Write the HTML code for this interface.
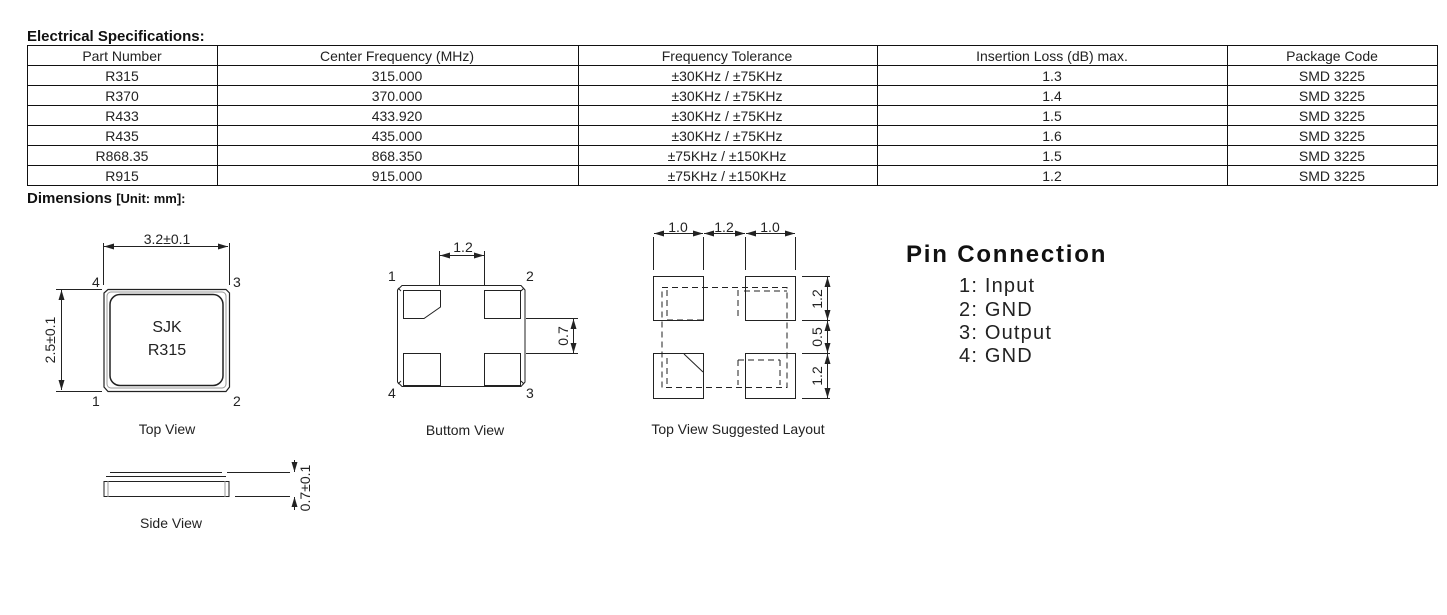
<!DOCTYPE html><html><head><meta charset="utf-8"><style>
body{margin:0;width:1447px;height:615px;background:#fff;overflow:hidden;font-family:"Liberation Sans",sans-serif}
svg{position:absolute;left:0;top:0}
</style></head><body>
<svg width="1447" height="615" xmlns="http://www.w3.org/2000/svg">
<defs>
<marker id="a" viewBox="0 0 10 6" refX="10" refY="3" markerWidth="10" markerHeight="6" orient="auto-start-reverse" markerUnits="userSpaceOnUse"><path d="M0,0L10,3L0,6z" fill="#222"/></marker>
</defs>
<g font-family="Liberation Sans,sans-serif" fill="#111">
<text x="27" y="41" font-size="15" font-weight="bold">Electrical Specifications:</text>
<text x="27" y="203" font-size="15" font-weight="bold">Dimensions <tspan font-size="13">[Unit: mm]:</tspan></text>
</g>
<g stroke="#111" stroke-width="1" fill="none">
<rect x="27.5" y="45.5" width="1410" height="140"/>
<path d="M27 65.5H1437M27 85.5H1437M27 105.5H1437M27 125.5H1437M27 145.5H1437M27 165.5H1437M217.5 45V185M578.5 45V185M877.5 45V185M1227.5 45V185"/>
</g>
<g font-family="Liberation Sans,sans-serif" font-size="14" fill="#222" text-anchor="middle">
<text x="122" y="61">Part Number</text><text x="397" y="61">Center Frequency (MHz)</text><text x="727" y="61">Frequency Tolerance</text><text x="1052" y="61">Insertion Loss (dB) max.</text><text x="1332" y="61">Package Code</text>
<text x="122" y="81">R315</text><text x="397" y="81">315.000</text><text x="727" y="81">±30KHz / ±75KHz</text><text x="1052" y="81">1.3</text><text x="1332" y="81">SMD 3225</text>
<text x="122" y="101">R370</text><text x="397" y="101">370.000</text><text x="727" y="101">±30KHz / ±75KHz</text><text x="1052" y="101">1.4</text><text x="1332" y="101">SMD 3225</text>
<text x="122" y="121">R433</text><text x="397" y="121">433.920</text><text x="727" y="121">±30KHz / ±75KHz</text><text x="1052" y="121">1.5</text><text x="1332" y="121">SMD 3225</text>
<text x="122" y="141">R435</text><text x="397" y="141">435.000</text><text x="727" y="141">±30KHz / ±75KHz</text><text x="1052" y="141">1.6</text><text x="1332" y="141">SMD 3225</text>
<text x="122" y="161">R868.35</text><text x="397" y="161">868.350</text><text x="727" y="161">±75KHz / ±150KHz</text><text x="1052" y="161">1.5</text><text x="1332" y="161">SMD 3225</text>
<text x="122" y="181">R915</text><text x="397" y="181">915.000</text><text x="727" y="181">±75KHz / ±150KHz</text><text x="1052" y="181">1.2</text><text x="1332" y="181">SMD 3225</text>
</g>
<!-- Top view -->
<g stroke="#222" fill="none" stroke-width="1">
<path d="M103.5 243V285M229.5 243V285M56 289.5H102M56 391.5H102"/>
<line x1="104" y1="246.5" x2="228" y2="246.5" marker-start="url(#a)" marker-end="url(#a)"/>
<line x1="61.5" y1="290" x2="61.5" y2="390" marker-start="url(#a)" marker-end="url(#a)"/>
<path d="M108 289.5H226L229.5 293V387L226 391.5H108L104 387V293Z" stroke-width="1.2"/>
<rect x="107" y="292" width="119" height="96" rx="4" stroke="#999"/>
<rect x="110" y="294.5" width="113" height="91" rx="10" stroke-width="1.5"/>
</g>
<g font-family="Liberation Sans,sans-serif" fill="#222" font-size="14">
<text x="167" y="244" text-anchor="middle">3.2±0.1</text>
<text x="55" y="340" text-anchor="middle" transform="rotate(-90 55 340)">2.5±0.1</text>
<text x="92" y="287">4</text><text x="233" y="287">3</text><text x="92" y="406">1</text><text x="233" y="406">2</text>
<text x="167" y="332" text-anchor="middle" font-size="16">SJK</text>
<text x="167" y="355" text-anchor="middle" font-size="16">R315</text>
<text x="167" y="434" text-anchor="middle">Top View</text>
</g>
<!-- Side view -->
<g stroke="#222" fill="none" stroke-width="1">
<path d="M110 472.5H222M106 476.5H226M104 481.5H229V496.5H104Z"/>
<path d="M108 481V497M225 481V497" stroke="#999"/>
<path d="M227 472.5H290M235 496.5H290"/>
<line x1="294.5" y1="460" x2="294.5" y2="472" marker-end="url(#a)"/>
<line x1="294.5" y1="510" x2="294.5" y2="497" marker-end="url(#a)"/>
</g>
<g font-family="Liberation Sans,sans-serif" fill="#222" font-size="14">
<text x="310" y="488" text-anchor="middle" transform="rotate(-90 310 488)">0.7±0.1</text>
<text x="171" y="528" text-anchor="middle">Side View</text>
</g>
<!-- Bottom view -->
<g stroke="#222" fill="none" stroke-width="1">
<path d="M402 285.5H521L525 290V382L521 386.5H402L397.5 382V290Z"/>
<path d="M398 288L401 291 M524 288L521 291 M398 384L401 381 M524 384L521 381"/>
<path d="M403.5 290.5H440.5V307L424 318.5H403.5Z"/>
<rect x="484.5" y="290.5" width="36" height="28"/>
<rect x="403.5" y="353.5" width="37" height="32"/>
<rect x="484.5" y="353.5" width="36" height="32"/>
<path d="M439.5 251V285M484.5 251V285M526 318.5H578M526 353.5H578"/>
<line x1="440" y1="255.5" x2="484" y2="255.5" marker-start="url(#a)" marker-end="url(#a)"/>
<line x1="573.5" y1="319" x2="573.5" y2="353" marker-start="url(#a)" marker-end="url(#a)"/>
</g>
<g font-family="Liberation Sans,sans-serif" fill="#222" font-size="14">
<text x="463" y="252" text-anchor="middle">1.2</text>
<text x="568" y="336" text-anchor="middle" transform="rotate(-90 568 336)">0.7</text>
<text x="388" y="281">1</text><text x="526" y="281">2</text><text x="388" y="398">4</text><text x="526" y="398">3</text>
<text x="465" y="435" text-anchor="middle">Buttom View</text>
</g>
<!-- Layout -->
<g stroke="#222" fill="none" stroke-width="1">
<path d="M653.5 237V270M703.5 237V270M745.5 237V270M795.5 237V270"/>
<line x1="654" y1="233.5" x2="703" y2="233.5" marker-start="url(#a)" marker-end="url(#a)"/>
<line x1="704" y1="233.5" x2="745" y2="233.5" marker-start="url(#a)" marker-end="url(#a)"/>
<line x1="746" y1="233.5" x2="795" y2="233.5" marker-start="url(#a)" marker-end="url(#a)"/>
<rect x="653.5" y="276.5" width="50" height="44"/>
<rect x="745.5" y="276.5" width="50" height="44"/>
<rect x="653.5" y="353.5" width="50" height="45"/>
<rect x="745.5" y="353.5" width="50" height="45"/>
<path d="M802 276.5H830M802 320.5H830M802 353.5H830M802 398.5H830"/>
<line x1="827.5" y1="277" x2="827.5" y2="320" marker-start="url(#a)" marker-end="url(#a)"/>
<line x1="827.5" y1="321" x2="827.5" y2="353" marker-start="url(#a)" marker-end="url(#a)"/>
<line x1="827.5" y1="354" x2="827.5" y2="398" marker-start="url(#a)" marker-end="url(#a)"/>
<g stroke-dasharray="6,4">
<path d="M662 287.5H787V387.5H662Z"/>
<path d="M667 290V320M667 320H703M744 291H787M738 290V320M780 360V385M738 360V385M667 358V385M738 360H780"/>
</g>
<path d="M684 354L703 372"/>
</g>
<g font-family="Liberation Sans,sans-serif" fill="#222" font-size="14">
<text x="678" y="232" text-anchor="middle">1.0</text><text x="724" y="232" text-anchor="middle">1.2</text><text x="770" y="232" text-anchor="middle">1.0</text>
<text x="822" y="299" text-anchor="middle" transform="rotate(-90 822 299)">1.2</text>
<text x="822" y="337" text-anchor="middle" transform="rotate(-90 822 337)">0.5</text>
<text x="822" y="376" text-anchor="middle" transform="rotate(-90 822 376)">1.2</text>
<text x="738" y="434" text-anchor="middle">Top View Suggested Layout</text>
</g>
<g font-family="Liberation Sans,sans-serif" fill="#111">
<text x="906" y="262" font-size="24" font-weight="bold" letter-spacing="1.8">Pin Connection</text>
<g font-size="20" fill="#222" letter-spacing="1.2"><text x="959" y="292">1: Input</text><text x="959" y="316">2: GND</text><text x="959" y="339">3: Output</text><text x="959" y="362">4: GND</text></g>
</g>
</svg>
</body></html>
